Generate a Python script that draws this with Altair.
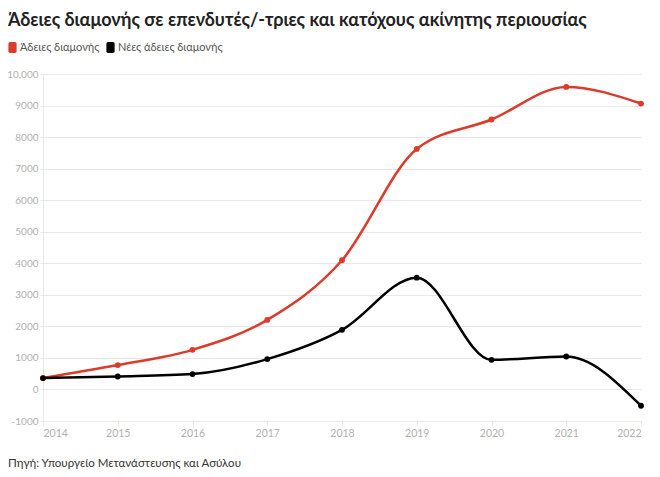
import altair as alt
import pandas as pd

years = [2014, 2015, 2016, 2017, 2018, 2019, 2020, 2021, 2022]
permits = [360, 772, 1256, 2205, 4095, 7625, 8557, 9590, 9063]
new_permits = [360, 411, 487, 962, 1889, 3544, 940, 1044, -516]
series_names = ["Άδειες διαμονής", "Νέες άδειες διαμονής"]
colors = ["#dc3a2a", "#000000"]
y_ticks = [-1000, 0, 1000, 2000, 3000, 4000, 5000, 6000, 7000, 8000, 9000, 10000]
title_text = "Άδειες διαμονής σε επενδυτές/-τριες και κατόχους ακίνητης περιουσίας"
source_text = "Πηγή: Υπουργείο Μετανάστευσης και Ασύλου"

rows = []
for name, vals in zip(series_names, [permits, new_permits]):
    for yr, v in zip(years, vals):
        rows.append({"year": yr, "value": v, "series": name})
df = pd.DataFrame(rows)

W, H = 598, 347
FONT = "Lato"
GRID = "#e8e8e8"
LBL = "#b0b0b0"

rect_path = "M-0.45,-1H0.45Q0.75,-1,0.75,-0.7V0.7Q0.75,1,0.45,1H-0.45Q-0.75,1,-0.75,0.7V-0.7Q-0.75,-1,-0.45,-1Z"

base = alt.Chart(df).encode(
    x=alt.X("year:Q",
            scale=alt.Scale(domain=[2014, 2022], nice=False, zero=False),
            axis=alt.Axis(values=years, format="d", title=None, grid=False,
                          domainColor=GRID, tickColor=GRID, tickSize=5,
                          labelColor=LBL, labelFontSize=10.5, labelFont=FONT,
                          labelPadding=2)),
    y=alt.Y("value:Q",
            scale=alt.Scale(domain=[-1000, 10000], nice=False, zero=False),
            axis=alt.Axis(values=y_ticks, title=None, gridColor=GRID,
                          domainColor=GRID, tickColor=GRID, tickSize=3,
                          labelColor=LBL, labelFontSize=10, labelFont=FONT,
                          labelPadding=2,
                          labelExpr="datum.value >= 10000 ? format(datum.value, ',') : '' + datum.value")),
    color=alt.Color("series:N",
                    scale=alt.Scale(domain=series_names, range=colors),
                    legend=alt.Legend(title=None, orient="none", legendX=-36, legendY=-32,
                                      direction="horizontal", symbolType=rect_path,
                                      symbolSize=120, symbolStrokeWidth=0,
                                      labelFontSize=11, labelFont=FONT, labelColor="#555555",
                                      labelOffset=2, columnPadding=5)),
)

lines = base.mark_line(interpolate="monotone", strokeWidth=2.5)
points = base.mark_point(filled=True, size=34, opacity=1)

title = alt.Chart(pd.DataFrame({"t": [title_text]})).mark_text(
    align="left", baseline="alphabetic", fontSize=18, fontWeight="bold",
    font=FONT, color="#222222"
).encode(x=alt.value(-35), y=alt.value(-48), text="t:N")

source = alt.Chart(pd.DataFrame({"t": [source_text]})).mark_text(
    align="left", baseline="alphabetic", fontSize=11.5, font=FONT, color="#333333"
).encode(x=alt.value(-35), y=alt.value(H + 46), text="t:N")

chart = alt.layer(lines, points, title, source).properties(
    width=W, height=H,
    padding={"left": 35, "top": 66, "right": 11, "bottom": 48},
    autosize=alt.AutoSizeParams(type="none"),
).configure_view(stroke=None)

chart.save("out.html", embed_options={"renderer": "svg", "actions": False})
